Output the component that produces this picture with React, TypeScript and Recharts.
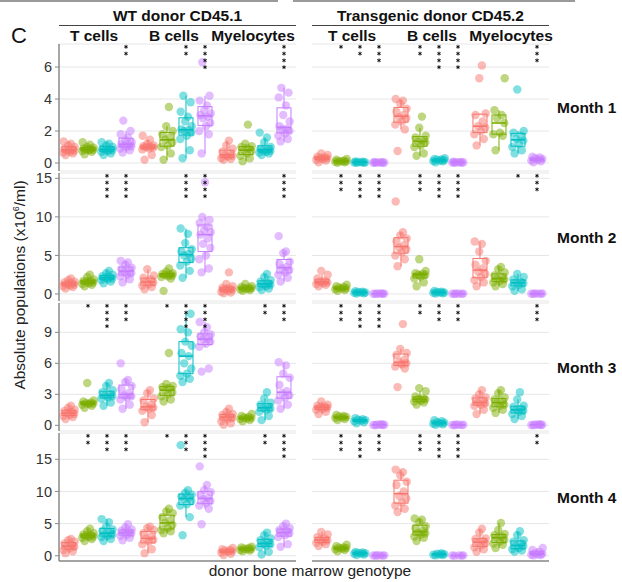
import React from 'react';
import { ComposedChart, Bar, Scatter, XAxis, YAxis, CartesianGrid, ReferenceLine } from 'recharts';

const cellTypes = ['T cells', 'B cells', 'Myelocytes'];
const donors = ['WT donor CD45.1', 'Transgenic donor CD45.2'];
const months = ['Month 1', 'Month 2', 'Month 3', 'Month 4'];
const genotypeColors = ['#F8766D', '#7CAE00', '#00BFC4', '#C77CFF'];

const month1Ticks = [0, 2, 4, 6];
const month2Ticks = [0, 5, 10, 15];
const month3Ticks = [0, 3, 6, 9];
const month4Ticks = [0, 5, 10, 15];

// each panel: T cells (4 genotypes), B cells (4), Myelocytes (4)
const wtMonth1 = [
  [0.5, 0.6, 0.65, 0.7, 0.75, 0.8, 0.85, 0.9, 1.0, 1.1, 1.2, 1.35],
  [0.55, 0.7, 0.75, 0.8, 0.82, 0.85, 0.88, 0.9, 0.95, 1.0, 1.15, 1.3],
  [0.5, 0.6, 0.7, 0.75, 0.8, 0.82, 0.85, 0.9, 1.0, 1.1, 1.2, 1.3],
  [0.65, 0.8, 0.9, 1.0, 1.05, 1.1, 1.15, 1.2, 1.3, 1.4, 1.6, 1.8, 2.0, 2.65],
  [0.2, 0.5, 0.85, 0.9, 0.95, 1.0, 1.0, 1.05, 1.1, 1.2, 1.45, 1.7],
  [0.2, 0.6, 1.0, 1.1, 1.3, 1.45, 1.6, 1.8, 2.0, 2.3, 3.5],
  [0.3, 0.8, 1.5, 1.7, 1.9, 2.0, 2.05, 2.1, 2.3, 2.6, 2.9, 3.2, 3.8, 4.2],
  [0.6, 1.8, 2.0, 2.3, 2.5, 2.8, 2.9, 3.0, 3.1, 3.3, 3.6, 3.9, 4.2, 6.3],
  [0.2, 0.25, 0.3, 0.4, 0.45, 0.5, 0.6, 0.7, 0.9, 1.1, 1.4],
  [0.1, 0.3, 0.45, 0.6, 0.75, 0.8, 0.9, 1.0, 1.05, 1.2, 2.4],
  [0.5, 0.6, 0.65, 0.7, 0.75, 0.8, 0.85, 0.9, 1.0, 1.3, 1.6, 1.9],
  [1.35, 1.5, 1.7, 1.85, 2.0, 2.1, 2.15, 2.3, 2.6, 3.0, 3.6, 4.1, 4.4, 4.7],
];
const tgMonth1 = [
  [0.05, 0.15, 0.2, 0.25, 0.3, 0.3, 0.35, 0.4, 0.5, 0.6],
  [0.02, 0.05, 0.08, 0.1, 0.1, 0.12, 0.15, 0.2, 0.25],
  [0.01, 0.02, 0.03, 0.04, 0.05, 0.06, 0.08, 0.1],
  [0.01, 0.02, 0.02, 0.03, 0.03, 0.04, 0.05, 0.06],
  [0.75, 2.1, 2.4, 2.6, 2.8, 2.85, 3.0, 3.2, 3.4, 3.7, 3.9, 4.0],
  [0.45, 0.6, 1.0, 1.1, 1.3, 1.35, 1.4, 1.6, 1.7, 2.2, 2.9],
  [0.05, 0.1, 0.12, 0.15, 0.18, 0.2, 0.22, 0.25, 0.3],
  [0.01, 0.02, 0.03, 0.04, 0.05, 0.05, 0.06, 0.08],
  [1.1, 1.5, 1.8, 2.0, 2.2, 2.3, 2.6, 3.0, 3.1, 5.3, 6.1],
  [0.8, 1.7, 1.8, 1.9, 2.5, 2.8, 3.0, 3.3, 5.3],
  [0.6, 0.8, 1.0, 1.2, 1.4, 1.5, 1.7, 1.9, 2.0, 4.6],
  [0.05, 0.1, 0.15, 0.2, 0.25, 0.3, 0.35, 0.4],
];
const wtMonth2 = [
  [0.7, 0.9, 1.0, 1.1, 1.2, 1.3, 1.4, 1.5, 1.6, 1.8, 2.0],
  [1.0, 1.2, 1.3, 1.4, 1.5, 1.6, 1.65, 1.7, 1.9, 2.2, 2.5],
  [1.4, 1.6, 1.8, 1.9, 2.0, 2.1, 2.2, 2.3, 2.5, 2.7, 3.0],
  [1.5, 1.9, 2.3, 2.5, 2.7, 2.9, 3.0, 3.2, 3.4, 3.8, 4.1, 4.3],
  [0.6, 0.9, 1.1, 1.3, 1.5, 1.6, 1.9, 2.1, 2.4, 3.2],
  [0.4, 2.0, 2.2, 2.3, 2.4, 2.5, 2.5, 2.6, 2.7, 2.9, 3.3],
  [2.1, 3.0, 3.7, 4.2, 4.6, 5.0, 5.2, 5.5, 5.8, 6.6, 7.8, 8.5],
  [2.8, 3.3, 4.5, 5.0, 6.0, 6.5, 7.2, 7.7, 8.0, 8.3, 8.7, 9.2, 9.6, 10.0, 14.5],
  [0.1, 0.2, 0.3, 0.4, 0.5, 0.6, 0.7, 0.8, 1.0, 1.3, 2.8],
  [0.4, 0.5, 0.6, 0.65, 0.7, 0.75, 0.8, 0.9, 1.0, 1.3],
  [0.5, 0.7, 0.9, 1.0, 1.2, 1.3, 1.4, 1.6, 1.8, 2.2, 2.6],
  [1.6, 2.1, 2.5, 2.8, 3.1, 3.3, 3.5, 3.9, 4.2, 5.3, 5.5, 7.5],
];
const tgMonth2 = [
  [1.0, 1.2, 1.3, 1.4, 1.5, 1.6, 1.7, 2.0, 2.5, 3.0],
  [0.4, 0.5, 0.6, 0.7, 0.75, 0.8, 0.9, 1.0, 1.2],
  [0.05, 0.1, 0.15, 0.2, 0.2, 0.25, 0.3, 0.35],
  [0.01, 0.02, 0.03, 0.04, 0.05, 0.06, 0.08],
  [3.6, 4.5, 5.0, 5.4, 5.8, 6.0, 6.3, 6.8, 7.2, 7.6, 8.0, 12.0],
  [1.0, 1.5, 2.0, 2.3, 2.5, 2.5, 2.6, 2.7, 3.0, 4.5],
  [0.05, 0.1, 0.15, 0.2, 0.2, 0.25, 0.3, 0.4],
  [0.01, 0.02, 0.03, 0.04, 0.05, 0.06],
  [1.0, 1.5, 1.8, 2.2, 2.6, 2.9, 3.3, 3.8, 4.3, 5.5, 6.5, 6.8],
  [1.0, 1.3, 1.5, 1.7, 1.9, 2.0, 2.2, 2.4, 2.8, 3.2, 3.5],
  [0.4, 0.6, 1.0, 1.2, 1.4, 1.5, 1.6, 1.9, 2.2, 2.6],
  [0.01, 0.02, 0.03, 0.05, 0.06, 0.08],
];
const wtMonth3 = [
  [0.6, 0.8, 0.9, 1.0, 1.1, 1.2, 1.3, 1.4, 1.5, 1.7, 1.9],
  [1.7, 1.9, 2.0, 2.05, 2.1, 2.15, 2.2, 2.3, 2.4, 4.1],
  [1.9, 2.2, 2.6, 2.7, 2.8, 2.9, 3.0, 3.2, 3.4, 3.8, 4.1],
  [1.6, 2.0, 2.5, 2.7, 2.8, 2.9, 3.1, 3.5, 3.8, 4.2, 4.4, 6.0],
  [0.3, 1.0, 1.4, 1.6, 1.7, 1.8, 2.0, 2.4, 2.6, 3.1, 3.4],
  [2.3, 2.5, 2.8, 3.0, 3.2, 3.4, 3.6, 3.7, 3.8, 4.0, 7.0],
  [4.2, 4.5, 4.8, 5.0, 5.5, 6.0, 6.7, 7.0, 7.7, 8.1, 9.0, 9.3, 10.8],
  [5.2, 5.5, 7.6, 7.9, 8.1, 8.3, 8.4, 8.6, 8.8, 9.0, 9.5, 10.0],
  [0.05, 0.2, 0.4, 0.6, 0.7, 0.8, 0.9, 1.0, 1.1, 1.3, 1.6],
  [0.4, 0.5, 0.6, 0.65, 0.7, 0.75, 0.8, 0.9, 1.1],
  [0.5, 0.9, 1.3, 1.5, 1.6, 1.7, 1.8, 2.0, 2.2, 2.6, 3.2],
  [1.6, 2.0, 2.4, 2.7, 2.9, 3.1, 3.3, 3.9, 4.6, 5.0, 5.8, 6.1],
];
const tgMonth3 = [
  [1.1, 1.3, 1.5, 1.6, 1.7, 1.75, 1.8, 1.9, 2.0, 2.3],
  [0.5, 0.6, 0.7, 0.75, 0.8, 0.85, 0.9, 1.0],
  [0.2, 0.3, 0.4, 0.45, 0.5, 0.55, 0.6, 0.7],
  [0.01, 0.02, 0.03, 0.05, 0.06, 0.08, 0.1],
  [3.7, 5.5, 5.7, 5.9, 6.0, 6.1, 6.3, 6.8, 7.0, 7.4, 9.8],
  [2.0, 2.2, 2.3, 2.4, 2.5, 2.55, 2.6, 2.8, 3.3, 3.6],
  [0.05, 0.1, 0.15, 0.2, 0.25, 0.3, 0.4, 0.5],
  [0.01, 0.02, 0.03, 0.05, 0.06, 0.08],
  [1.1, 1.5, 1.9, 2.0, 2.1, 2.2, 2.4, 2.6, 2.7, 3.0, 3.4],
  [1.2, 1.5, 1.7, 1.9, 2.0, 2.2, 2.3, 2.5, 2.7, 3.1, 3.4],
  [0.6, 0.9, 1.1, 1.3, 1.4, 1.5, 1.6, 1.8, 1.9, 2.5, 3.2],
  [0.01, 0.02, 0.03, 0.05, 0.06, 0.08, 0.1],
];
const wtMonth4 = [
  [0.4, 0.7, 0.9, 1.2, 1.4, 1.5, 1.7, 1.9, 2.2, 2.4, 2.6],
  [2.3, 2.6, 2.8, 2.9, 3.0, 3.1, 3.2, 3.3, 3.5, 3.8, 4.2],
  [2.3, 2.6, 2.9, 3.1, 3.3, 3.4, 3.6, 3.9, 4.1, 4.6, 5.2, 5.7],
  [2.4, 2.8, 3.1, 3.3, 3.5, 3.6, 3.7, 3.9, 4.1, 4.4, 4.9],
  [0.4, 1.0, 1.8, 2.2, 2.5, 2.7, 3.0, 3.5, 4.0, 4.3, 4.5],
  [3.5, 3.8, 4.0, 4.3, 4.8, 5.1, 5.5, 6.0, 6.6, 6.9, 7.3],
  [3.2, 6.0, 7.8, 8.0, 8.5, 8.8, 9.0, 9.2, 9.5, 9.8, 10.2, 17.2],
  [4.9, 7.3, 7.8, 8.2, 8.5, 8.8, 9.0, 9.5, 9.9, 10.2, 11.0, 13.9],
  [0.1, 0.3, 0.5, 0.6, 0.7, 0.8, 0.9, 1.0, 1.2],
  [0.7, 0.8, 0.9, 1.0, 1.05, 1.1, 1.2, 1.3, 1.4],
  [0.2, 0.6, 1.3, 1.6, 1.8, 1.9, 2.1, 2.4, 2.7, 3.2, 3.6],
  [1.4, 1.8, 2.9, 3.2, 3.5, 3.6, 3.8, 4.0, 4.3, 4.6, 5.0],
];
const tgMonth4 = [
  [1.5, 1.8, 2.0, 2.2, 2.4, 2.5, 2.7, 2.9, 3.3, 3.7],
  [0.7, 0.9, 1.0, 1.1, 1.2, 1.25, 1.3, 1.5, 1.7],
  [0.1, 0.2, 0.3, 0.35, 0.4, 0.45, 0.5, 0.6],
  [0.01, 0.02, 0.03, 0.05, 0.06, 0.08],
  [6.8, 7.3, 7.8, 8.3, 8.9, 9.3, 10.0, 11.0, 11.5, 12.5, 13.0, 13.4],
  [2.3, 2.8, 3.0, 3.3, 3.5, 3.6, 3.9, 4.3, 4.6, 5.2, 5.6, 5.8],
  [0.05, 0.1, 0.15, 0.2, 0.25, 0.3, 0.4],
  [0.01, 0.02, 0.03, 0.05, 0.06],
  [0.6, 1.0, 1.3, 1.6, 1.9, 2.1, 2.3, 2.6, 2.7, 3.6, 4.2],
  [1.2, 1.7, 1.9, 2.2, 2.5, 2.8, 3.0, 3.2, 3.4, 4.0, 5.1],
  [0.6, 0.8, 1.0, 1.2, 1.5, 1.6, 1.9, 2.2, 2.4, 3.2, 3.8],
  [0.05, 0.1, 0.15, 0.2, 0.3, 0.4, 0.6, 0.9, 1.2],
];

// number of significance asterisks above each box
const wtStars1 = [0, 0, 0, 2, 0, 0, 2, 4, 0, 0, 0, 4];
const tgStars1 = [0, 1, 2, 3, 0, 2, 4, 4, 0, 0, 0, 3];
const wtStars2 = [0, 0, 4, 4, 0, 0, 4, 4, 0, 0, 0, 4];
const tgStars2 = [0, 3, 4, 4, 0, 3, 4, 4, 0, 0, 1, 3];
const wtStars3 = [0, 1, 4, 3, 0, 1, 4, 4, 0, 0, 2, 3];
const tgStars3 = [0, 3, 4, 4, 0, 2, 3, 3, 0, 0, 0, 3];
const wtStars4 = [0, 2, 3, 3, 0, 1, 3, 4, 0, 0, 2, 4];
const tgStars4 = [0, 3, 4, 3, 0, 3, 4, 4, 0, 0, 0, 2];

const FONT = '"Liberation Sans", Arial, Helvetica, sans-serif';
const PANEL_W = 237;
const AXIS_W = 40;
const PAD = 10;
const BOX_W = 14;
const GROUP_STEP = 4.158;
const X_DOMAIN: [number, number] = [-0.526, 11.947];
const JITTER = [-0.18, 0.2, -0.3, 0.05, 0.28, -0.1, 0.14, -0.24, 0.3, -0.04, 0.1, -0.28, 0.24, -0.14, 0.0];

const rows = [
  { top: 44, h: 127, domain: [-0.5, 7.44], ticks: month1Ticks, wt: wtMonth1, tg: tgMonth1, wtS: wtStars1, tgS: tgStars1 },
  { top: 173, h: 128, domain: [-0.91, 15.69], ticks: month2Ticks, wt: wtMonth2, tg: tgMonth2, wtS: wtStars2, tgS: tgStars2 },
  { top: 303, h: 128, domain: [-0.55, 11.84], ticks: month3Ticks, wt: wtMonth3, tg: tgMonth3, wtS: wtStars3, tgS: tgStars3 },
  { top: 433, h: 128, domain: [-0.82, 19.09], ticks: month4Ticks, wt: wtMonth4, tg: tgMonth4, wtS: wtStars4, tgS: tgStars4 },
];

const posOf = (i: number) => Math.floor(i / 4) * GROUP_STEP + (i % 4);

function quantile(s: number[], p: number) {
  const h = (s.length - 1) * p;
  const lo = Math.floor(h);
  const hi = Math.ceil(h);
  return s[lo] + (s[hi] - s[lo]) * (h - lo);
}

function buildBoxes(groups: number[][]) {
  return groups.map((vals, i) => {
    const s = [...vals].sort((a, b) => a - b);
    const q1 = quantile(s, 0.25);
    const med = quantile(s, 0.5);
    const q3 = quantile(s, 0.75);
    const iqr = q3 - q1;
    const lo = s.find((v) => v >= q1 - 1.5 * iqr);
    const hi = [...s].reverse().find((v) => v <= q3 + 1.5 * iqr);
    return { x: posOf(i), range: [q1, q3], q1, q3, med, lo, hi, color: genotypeColors[i % 4] };
  });
}

function buildPoints(groups: number[][]) {
  const pts: any[] = [];
  groups.forEach((vals, i) => {
    vals.forEach((v, j) => {
      pts.push({ x: posOf(i) + JITTER[j % JITTER.length], y: v, color: genotypeColors[i % 4] });
    });
  });
  return pts;
}

const BoxShape = (props: any) => {
  const { x, y, width, height, payload } = props;
  if (x == null || y == null) return null;
  const h = Math.abs(height);
  const top = height >= 0 ? y : y + height;
  const span = payload.q3 - payload.q1;
  const k = span > 0 ? h / span : 0;
  const yv = (v: number) => top + (payload.q3 - v) * k;
  const cx = x + (width || 0) / 2;
  const bx = cx - BOX_W / 2;
  const c = payload.color;
  return (
    <g>
      <line x1={cx} x2={cx} y1={yv(payload.hi)} y2={top} stroke={c} strokeWidth={1} />
      <line x1={cx} x2={cx} y1={top + h} y2={yv(payload.lo)} stroke={c} strokeWidth={1} />
      <rect x={bx} y={top} width={BOX_W} height={Math.max(h, 0.5)} fill="none" stroke={c} strokeWidth={1} />
      <line x1={bx} x2={bx + BOX_W} y1={yv(payload.med)} y2={yv(payload.med)} stroke={c} strokeWidth={1.6} />
    </g>
  );
};

const Dot = (props: any) => {
  const { cx, cy, payload } = props;
  if (cx == null || cy == null) return null;
  return <circle cx={cx} cy={cy} r={4.2} fill={payload.color} fillOpacity={0.5} />;
};

const Stars = (props: any) => {
  const { cx, cy, payload } = props;
  if (cx == null || cy == null) return null;
  const r = 1.9;
  const items = [];
  for (let i = 0; i < payload.n; i++) {
    const yy = cy + 2.8 + i * 6.8;
    items.push(
      <g key={i} stroke="#111" strokeWidth={1}>
        <line x1={cx} x2={cx} y1={yy - r} y2={yy + r} />
        <line x1={cx - r * 0.87} x2={cx + r * 0.87} y1={yy - r * 0.5} y2={yy + r * 0.5} />
        <line x1={cx - r * 0.87} x2={cx + r * 0.87} y1={yy + r * 0.5} y2={yy - r * 0.5} />
      </g>
    );
  }
  return <g>{items}</g>;
};

function Panel({ groups, stars, ticks, domain, left, top, height, showAxis, showBottom }: any) {
  const boxes = buildBoxes(groups);
  const points = buildPoints(groups);
  const starData = stars
    .map((n: number, i: number) => ({ x: posOf(i), y: domain[1], n }))
    .filter((d: any) => d.n > 0);
  const axisW = showAxis ? AXIS_W : 0;
  return (
    <div style={{ position: 'absolute', left: left - axisW, top: top - PAD }}>
      <ComposedChart width={PANEL_W + axisW} height={height + 2 * PAD} data={boxes} margin={{ top: PAD, right: 0, bottom: PAD, left: 0 }}>
        <CartesianGrid vertical={false} stroke="#E6E6E6" />
        <XAxis type="number" dataKey="x" domain={X_DOMAIN} allowDataOverflow hide />
        <YAxis
          type="number"
          dataKey="y"
          domain={domain}
          ticks={ticks}
          interval={0}
          allowDataOverflow
          hide={!showAxis}
          width={axisW}
          axisLine={{ stroke: '#8A8A8A', strokeWidth: 1.5 }}
          tickLine={{ stroke: '#8A8A8A' }}
          tickSize={4}
          tickMargin={3}
          tick={{ fill: '#333', fontSize: 14.5, fontFamily: FONT }}
        />
        <Bar dataKey="range" barSize={BOX_W} shape={BoxShape} isAnimationActive={false} />
        <Scatter data={points} shape={Dot} isAnimationActive={false} />
        <Scatter data={starData} shape={Stars} isAnimationActive={false} />
        {showBottom && <ReferenceLine y={domain[0]} stroke="#8A8A8A" strokeWidth={1.5} ifOverflow="visible" />}
      </ComposedChart>
    </div>
  );
}

const wtLabelX = [94, 174, 253];
const tgLabelX = [352, 432, 511];

export default function App() {
  return (
    <div style={{ position: 'absolute', left: 0, top: 0, width: 622, height: 582, background: '#fff', overflow: 'hidden' }}>
      {rows.map((r, ri) => (
        <React.Fragment key={ri}>
          <Panel groups={r.wt} stars={r.wtS} ticks={r.ticks} domain={r.domain} left={59} top={r.top} height={r.h} showAxis showBottom={ri === 3} />
          <Panel groups={r.tg} stars={r.tgS} ticks={r.ticks} domain={r.domain} left={312} top={r.top} height={r.h} showAxis={false} showBottom={ri === 3} />
        </React.Fragment>
      ))}
      <svg width={622} height={582} style={{ position: 'absolute', left: 0, top: 0, pointerEvents: 'none' }} fontFamily={FONT}>
        <line x1={0} x2={278} y1={1} y2={1} stroke="#9A9A9A" strokeWidth={2} />
        <line x1={293} x2={575} y1={1} y2={1} stroke="#9A9A9A" strokeWidth={2} />
        <text x={11} y={43} fontSize={22} fill="#111">C</text>
        <text x={177.5} y={21} fontSize={15.5} fontWeight="bold" textAnchor="middle" fill="#111">{donors[0]}</text>
        <text x={430.5} y={21} fontSize={15.5} fontWeight="bold" textAnchor="middle" fill="#111">{donors[1]}</text>
        <line x1={59} x2={296} y1={25.5} y2={25.5} stroke="#444" strokeWidth={1} />
        <line x1={312} x2={549} y1={25.5} y2={25.5} stroke="#444" strokeWidth={1} />
        {cellTypes.map((c, i) => (
          <text key={'w' + i} x={wtLabelX[i]} y={41} fontSize={15.5} fontWeight="bold" textAnchor="middle" fill="#111">{c}</text>
        ))}
        {cellTypes.map((c, i) => (
          <text key={'t' + i} x={tgLabelX[i]} y={41} fontSize={15.5} fontWeight="bold" textAnchor="middle" fill="#111">{c}</text>
        ))}
        {months.map((m, i) => (
          <text key={m} x={557} y={rows[i].top + rows[i].h / 2 + 5.5} fontSize={15.5} fontWeight="bold" fill="#111">{m}</text>
        ))}
        <text x={0} y={0} fontSize={15.5} fill="#222" textAnchor="middle" transform="translate(25,285) rotate(-90)">
          Absolute populations (x10<tspan dy={-6} fontSize={9}>6</tspan><tspan dy={6}>/ml)</tspan>
        </text>
        <text x={310} y={576} fontSize={15.5} fill="#222" textAnchor="middle">donor bone marrow genotype</text>
      </svg>
    </div>
  );
}
